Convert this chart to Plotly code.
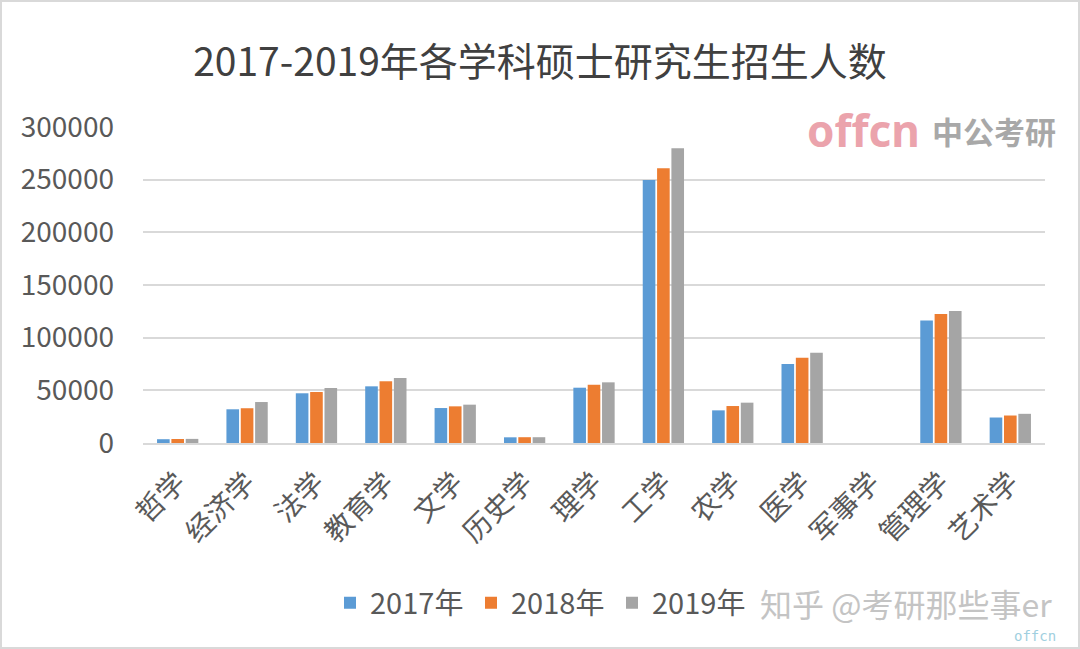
import plotly.graph_objects as go

categories = ["哲学", "经济学", "法学", "教育学", "文学", "历史学", "理学", "工学", "农学", "医学", "军事学", "管理学", "艺术学"]
y2017 = [3600, 32000, 47200, 53800, 33200, 5400, 52500, 249700, 31000, 75100, 0, 116300, 24200]
y2018 = [3800, 33000, 48400, 58600, 34800, 5500, 55300, 260800, 35100, 80900, 0, 122400, 26100]
y2019 = [3900, 38900, 52200, 61700, 36400, 5500, 57600, 279800, 38300, 85700, 0, 125200, 27700]
series_names = ["2017年", "2018年", "2019年"]
colors = ["#5B9BD5", "#ED7D31", "#A5A5A5"]
yticks = [0, 50000, 100000, 150000, 200000, 250000, 300000]

FONT = "Noto Sans CJK SC, Noto Sans, sans-serif"

fig = go.Figure()
for name, vals, c in zip(series_names, [y2017, y2018, y2019], colors):
    fig.add_trace(go.Bar(x=categories, y=vals, name=name, marker=dict(color=c, line=dict(width=0))))

W, H = 1080, 649
L, R, T, B = 143, 35, 127, 206
pw, ph = W - L - R, H - T - B

def px(x):
    return (x - L) / pw

def py(y):
    return (H - B - y) / ph

fig.update_layout(
    width=W, height=H,
    margin=dict(l=L, r=R, t=T, b=B),
    paper_bgcolor="white", plot_bgcolor="white",
    barmode="group", bargap=0.38, bargroupgap=0.12,
    font=dict(family=FONT, color="#595959"),
    title=dict(text="2017-2019年各学科硕士研究生招生人数", x=0.5, xref="container", xanchor="center",
               y=1 - 62 / H, yanchor="middle", yref="container",
               font=dict(size=39, color="#404040", family=FONT)),
    xaxis=dict(tickangle=-45, tickfont=dict(size=28, color="#595959"), showgrid=False,
               showline=True, linecolor="#d9d9d9", linewidth=2, ticks="", ticklabelstandoff=10),
    yaxis=dict(range=[0, 300000], tickvals=yticks, tickformat="d", tickfont=dict(size=28, color="#595959"),
               gridcolor="#d9d9d9", gridwidth=2, zeroline=False, showline=False, ticks="",
               ticklabelstandoff=28),
    legend=dict(orientation="h", x=px(330), xanchor="left", y=py(603), yanchor="middle",
                font=dict(size=29, color="#595959"), entrywidth=96, entrywidthmode="pixels",
                itemwidth=30, bgcolor="rgba(0,0,0,0)"),
    showlegend=True,
)

# watermarks
fig.add_annotation(text="知乎 @考研那些事er", x=px(1054), y=py(603), xref="paper", yref="paper",
                   xanchor="right", yanchor="middle", showarrow=False,
                   font=dict(size=32, color="#c4c4c4", family=FONT))
fig.add_annotation(text="offcn", x=px(1058), y=py(636), xref="paper", yref="paper",
                   xanchor="right", yanchor="middle", showarrow=False,
                   font=dict(size=14, color="#9fcfe0", family="DejaVu Sans Mono"))
fig.add_annotation(text="<b>offcn</b>", x=px(922), y=py(130), xref="paper", yref="paper",
                   xanchor="right", yanchor="middle", showarrow=False,
                   font=dict(size=44, color="#eba3ac", family="Noto Sans"))
fig.add_annotation(text="<b>中公考研</b>", x=px(1058), y=py(130), xref="paper", yref="paper",
                   xanchor="right", yanchor="middle", showarrow=False,
                   font=dict(size=31, color="#a8a8a8", family=FONT))

# frame border
fig.add_shape(type="rect", xref="paper", yref="paper", x0=px(1), x1=px(W - 1), y0=py(H - 1), y1=py(1),
              line=dict(color="#d9d9d9", width=2), fillcolor="rgba(0,0,0,0)", layer="above")

fig.write_html("out.html")
